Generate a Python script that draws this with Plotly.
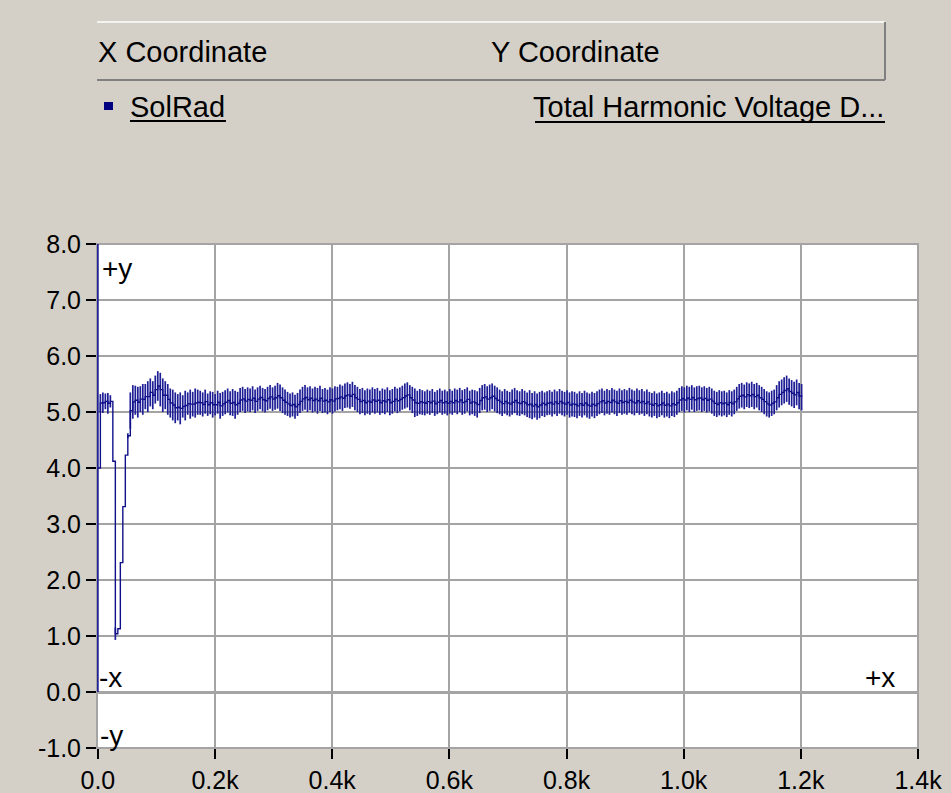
import plotly.graph_objects as go

# Sampling interval of the logger (x units per sample)
SAMPLE_STEP = 4.26

# Start-up transient: one reading per sample (low, high)
startup_lo = [0.00, 5.00, 4.98, 5.05, 4.97, 5.08, 4.12, 0.93, 1.13, 2.31, 3.31, 4.23, 4.53]
startup_hi = [8.00, 5.32, 5.35, 5.33, 5.34, 5.30, 4.12, 1.15, 1.13, 2.31, 3.31, 4.23, 4.62]

# Steady operation: per-sample minimum / maximum
steady_lo = [
    4.70, 4.88, 4.95, 4.90, 5.00, 4.95, 5.05, 5.00, 5.10, 5.05,
    5.15, 5.20, 5.10, 5.00, 5.05, 4.95, 4.90, 4.85, 4.80, 4.85,
    4.78, 4.90, 4.85, 4.95, 4.88, 4.92, 4.90, 4.95,
    4.95, 4.92, 4.97, 4.93, 4.96, 4.90, 4.94, 4.97, 4.88, 4.93,
    4.96, 4.99, 4.94, 4.93, 4.88, 4.95, 5.00, 5.02, 4.98, 5.01,
    5.00, 5.03, 4.98, 5.02, 5.05, 5.01, 4.99, 5.03, 5.06, 5.02,
    5.04, 5.06, 5.02, 4.98, 4.95, 4.93, 4.90, 4.92, 4.88, 4.93,
    4.98, 5.02, 5.04, 5.00, 5.03, 4.99, 5.01, 4.97, 5.02, 4.98,
    4.99, 4.96, 5.00, 4.97, 5.01, 5.03, 5.05, 5.02, 5.07, 5.08,
    5.06, 5.09, 5.03, 5.00, 4.96, 4.98, 4.94, 4.97, 4.95, 4.99,
    4.97, 4.99, 4.95, 4.98, 4.96, 5.00, 4.94, 4.97, 5.01, 4.98,
    5.01, 5.04, 5.06, 5.08, 5.03, 4.98, 4.91, 4.93, 4.96, 4.95,
    4.94, 4.97, 4.95, 4.98, 4.93, 4.96, 4.99, 4.95, 4.97, 4.94,
    4.97, 4.95, 4.99, 4.96, 5.00, 4.95, 4.97, 5.01, 4.94, 4.96,
    4.93, 4.90, 4.98, 5.03, 5.04, 5.00, 5.02, 5.05, 5.01, 4.98,
    4.96, 4.93, 4.97, 4.94, 4.92, 4.95, 4.98, 4.94, 4.93, 4.96,
    4.94, 4.91, 4.89, 4.87, 4.90, 4.86, 4.89, 4.93, 4.91, 4.94,
    4.95, 4.92, 4.96, 4.93, 4.97, 4.94, 4.92, 4.95, 4.90, 4.92,
    4.91, 4.89, 4.93, 4.90, 4.94, 4.90, 4.88, 4.92, 4.89, 4.93,
    4.96, 4.98, 4.94, 4.97, 4.95, 4.99, 4.96, 4.93, 4.98, 4.95,
    4.97, 4.95, 4.99, 4.96, 4.94, 4.98, 4.95, 4.97, 4.93, 4.96,
    4.92, 4.90, 4.93, 4.89, 4.91, 4.94, 4.90, 4.92, 4.89, 4.93,
    4.91, 4.95, 5.00, 5.02, 4.99, 5.03, 5.00, 5.04, 5.00, 5.02,
    5.03, 5.00, 5.02, 4.99, 5.01, 4.97, 4.93, 4.91, 4.94, 4.92,
    4.94, 4.91, 4.95, 4.92, 4.96, 5.02, 5.06, 5.08, 5.05, 5.09,
    5.07, 5.09, 5.05, 5.08, 5.03, 5.00, 4.96, 4.92, 4.90, 4.93,
    4.96, 5.03, 5.08, 5.12, 5.15, 5.18, 5.13, 5.10, 5.07, 5.12, 5.05, 5.03,
]
steady_hi = [
    5.35, 5.48, 5.47, 5.45, 5.46, 5.50, 5.50, 5.55, 5.60, 5.55,
    5.65, 5.73, 5.70, 5.60, 5.55, 5.50, 5.42, 5.40, 5.35, 5.32,
    5.35, 5.30, 5.38, 5.35, 5.40, 5.36, 5.42, 5.40,
    5.38, 5.35, 5.40, 5.33, 5.37, 5.36, 5.32, 5.38, 5.34, 5.36,
    5.39, 5.42, 5.37, 5.41, 5.38, 5.36, 5.43, 5.45, 5.41, 5.44,
    5.42, 5.46, 5.40, 5.44, 5.47, 5.43, 5.41, 5.45, 5.48, 5.44,
    5.47, 5.52, 5.49, 5.44, 5.40, 5.36, 5.33, 5.35, 5.31, 5.34,
    5.40, 5.45, 5.48, 5.44, 5.46, 5.42, 5.45, 5.43, 5.47, 5.41,
    5.43, 5.40, 5.44, 5.42, 5.46, 5.45, 5.49, 5.47, 5.51, 5.53,
    5.50, 5.54, 5.48, 5.45, 5.41, 5.43, 5.39, 5.42, 5.40, 5.44,
    5.41, 5.43, 5.38, 5.42, 5.40, 5.44, 5.39, 5.41, 5.45, 5.42,
    5.44, 5.47, 5.51, 5.53, 5.48, 5.45, 5.42, 5.38, 5.41, 5.39,
    5.37, 5.40, 5.38, 5.41, 5.36, 5.39, 5.42, 5.38, 5.40, 5.37,
    5.41, 5.38, 5.42, 5.40, 5.43, 5.39, 5.41, 5.44, 5.38, 5.40,
    5.39, 5.37, 5.43, 5.48, 5.50, 5.46, 5.49, 5.51, 5.47, 5.44,
    5.40, 5.37, 5.41, 5.38, 5.36, 5.40, 5.43, 5.39, 5.37, 5.41,
    5.38, 5.35, 5.39, 5.34, 5.37, 5.33, 5.36, 5.38, 5.35, 5.37,
    5.39, 5.36, 5.40, 5.37, 5.41, 5.38, 5.36, 5.39, 5.35, 5.37,
    5.36, 5.33, 5.37, 5.34, 5.38, 5.35, 5.33, 5.36, 5.34, 5.37,
    5.40, 5.42, 5.38, 5.41, 5.39, 5.43, 5.40, 5.38, 5.42, 5.39,
    5.41, 5.39, 5.43, 5.40, 5.38, 5.42, 5.39, 5.41, 5.37, 5.40,
    5.36, 5.34, 5.37, 5.33, 5.35, 5.38, 5.34, 5.36, 5.33, 5.37,
    5.35, 5.38, 5.43, 5.46, 5.44, 5.47, 5.45, 5.48, 5.44, 5.46,
    5.47, 5.44, 5.46, 5.43, 5.45, 5.42, 5.38, 5.36, 5.39, 5.37,
    5.38, 5.35, 5.39, 5.37, 5.40, 5.45, 5.50, 5.52, 5.49, 5.53,
    5.51, 5.54, 5.50, 5.52, 5.48, 5.45, 5.41, 5.37, 5.35, 5.38,
    5.40, 5.48, 5.55, 5.58, 5.62, 5.65, 5.60, 5.57, 5.54, 5.58, 5.52, 5.50,
]

y_ticks = [8.0, 7.0, 6.0, 5.0, 4.0, 3.0, 2.0, 1.0, 0.0, -1.0]
y_tick_text = ["8.0", "7.0", "6.0", "5.0", "4.0", "3.0", "2.0", "1.0", "0.0", "-1.0"]
x_ticks = [0, 200, 400, 600, 800, 1000, 1200, 1400]
x_tick_text = ["0.0", "0.2k", "0.4k", "0.6k", "0.8k", "1.0k", "1.2k", "1.4k"]

series_name = "SolRad"
y_title = "Total Harmonic Voltage D..."

# ---- assemble samples -------------------------------------------------
lo = startup_lo + steady_lo
hi = startup_hi + steady_hi
mid = [(a + b) / 2 for a, b in zip(lo, hi)]
xs = [round(i * SAMPLE_STEP, 2) for i in range(len(lo))]

NAVY = "#10108a"
BG = "#d4d0c8"
GRID = "#a4a4a4"
FONT = "Liberation Sans, Arial, sans-serif"

fig = go.Figure()
fig.add_trace(go.Scatter(
    x=xs, y=mid, mode="lines", line=dict(color=NAVY, width=1.4, shape="hv"),
    error_y=dict(type="data", symmetric=False,
                 array=[h - m for h, m in zip(hi, mid)],
                 arrayminus=[m - l for m, l in zip(mid, lo)],
                 color="#1e1e96", thickness=1.7, width=0),
    name=series_name, showlegend=False, hoverinfo="x+y",
))

# plot area in pixels
L, R, T, B = 97, 918, 244, 748
W, H = R - L, B - T


def px(xp):
    return (xp - L) / W


def py(yp):
    return (B - yp) / H


shapes = [
    # header box, raised 3D edges
    dict(type="line", xref="paper", yref="paper", x0=px(97), x1=px(885), y0=py(22), y1=py(22),
         line=dict(color="#ffffff", width=1.5)),
    dict(type="line", xref="paper", yref="paper", x0=px(97), x1=px(885), y0=py(80), y1=py(80),
         line=dict(color="#808080", width=2)),
    dict(type="line", xref="paper", yref="paper", x0=px(885), x1=px(885), y0=py(22), y1=py(80),
         line=dict(color="#808080", width=2)),
    # legend swatch
    dict(type="rect", xref="paper", yref="paper", x0=px(104), x1=px(113), y0=py(110), y1=py(102),
         line=dict(width=0), fillcolor="#000080"),
    # underlines
    dict(type="line", xref="paper", yref="paper", x0=px(130), x1=px(226), y0=py(121), y1=py(121),
         line=dict(color="#000000", width=2)),
    dict(type="line", xref="paper", yref="paper", x0=px(535), x1=px(885), y0=py(122), y1=py(122),
         line=dict(color="#000000", width=2)),
    # plot frame
    dict(type="rect", xref="paper", yref="paper", x0=0, x1=1, y0=0, y1=1,
         line=dict(color=GRID, width=2), layer="below"),
]

text_font = dict(family=FONT, size=29, color="#000000")
mark_font = dict(family=FONT, size=28, color="#000000")
annotations = [
    dict(text="X Coordinate", x=px(96), y=py(52), xanchor="left", yanchor="middle", font=text_font),
    dict(text="Y Coordinate", x=px(489), y=py(52), xanchor="left", yanchor="middle", font=text_font),
    dict(text=series_name, x=px(128), y=py(107), xanchor="left", yanchor="middle", font=text_font),
    dict(text=y_title, x=px(886), y=py(107), xanchor="right", yanchor="middle", font=text_font),
    dict(text="+y", x=px(100), y=py(268), xanchor="left", yanchor="middle", font=mark_font),
    dict(text="-x", x=px(97), y=py(677), xanchor="left", yanchor="middle", font=mark_font),
    dict(text="+x", x=px(897), y=py(677), xanchor="right", yanchor="middle", font=mark_font),
    dict(text="-y", x=px(98), y=py(735), xanchor="left", yanchor="middle", font=mark_font),
]
for a in annotations:
    a.update(xref="paper", yref="paper", showarrow=False)

fig.update_layout(
    width=951, height=793,
    margin=dict(l=L, r=951 - R, t=T, b=793 - B, pad=0),
    paper_bgcolor=BG, plot_bgcolor="#ffffff",
    shapes=shapes, annotations=annotations,
    showlegend=False,
    font=dict(family=FONT, size=24, color="#000000"),
)
fig.update_xaxes(
    range=[-1.5, 1400], tickvals=x_ticks, ticktext=x_tick_text, automargin=False,
    showgrid=True, gridcolor=GRID, gridwidth=2, zeroline=False,
    ticks="outside", ticklen=10, tickwidth=2, tickcolor="#000000",
    tickfont=dict(family=FONT, size=25), showline=False,
)
fig.update_yaxes(
    range=[-1, 8], tickvals=y_ticks, ticktext=y_tick_text, automargin=False,
    showgrid=True, gridcolor=GRID, gridwidth=2, zeroline=True, zerolinecolor=GRID,
    zerolinewidth=2.5,
    ticks="outside", ticklen=10, tickwidth=2, tickcolor="#000000",
    tickfont=dict(family=FONT, size=25), showline=False,
)

fig.write_html("out.html")
